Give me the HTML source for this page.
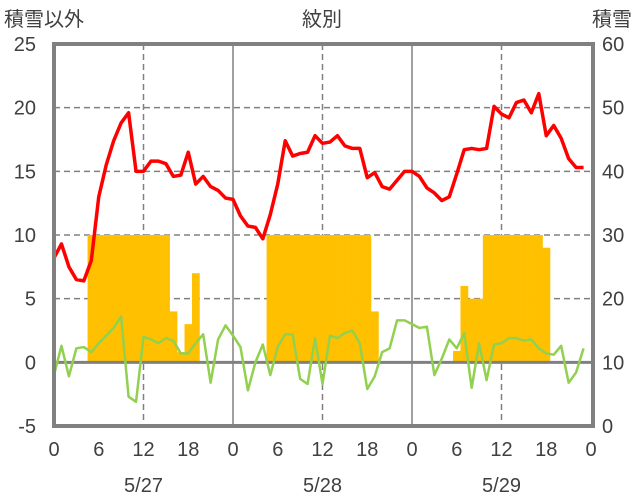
<!DOCTYPE html>
<html><head><meta charset="utf-8"><style>
body{margin:0;background:#fff;}
svg{display:block;font-family:"Liberation Sans","Noto Sans CJK JP",sans-serif;}
</style></head><body>
<svg id="c" width="636" height="501"></svg>
<script>
const hourLabels=["0","6","12","18","0","6","12","18","0","6","12","18","0"];
const dateLabels=["5/27","5/28","5/29"];
const leftTicks=[25,20,15,10,5,0,-5];
const rightTicks=[60,50,40,30,20,10,0];
const redSeries=[8.2,9.3,7.5,6.5,6.4,8.0,13,15.5,17.4,18.8,19.6,15,15,15.8,15.8,15.6,14.6,14.7,16.5,14,14.6,13.8,13.5,12.9,
12.8,11.5,10.7,10.6,9.7,11.6,14,17.4,16.2,16.4,16.5,17.8,17.2,17.3,17.8,17,16.8,16.8,14.5,14.9,13.8,13.6,14.3,15,
15,14.6,13.7,13.3,12.7,13.0,14.8,16.7,16.8,16.7,16.8,20.1,19.5,19.2,20.4,20.6,19.6,21.1,17.8,18.6,17.6,16.0,15.3,15.3];
const greenSeries=[-1.0,1.3,-1.1,1.1,1.2,0.8,1.5,2.1,2.7,3.6,-2.7,-3.1,2.0,1.8,1.5,1.9,1.7,0.7,0.7,1.5,2.2,-1.6,1.8,2.9,
2.1,1.2,-2.2,0,1.4,-1,1.2,2.2,2.2,-1.3,-1.7,1.9,-1.7,2.1,1.9,2.3,2.5,1.5,-2.1,-1.1,0.8,1.1,3.3,3.3,
3.0,2.7,2.8,-1.0,0.3,1.8,1.1,2.3,-2.0,1.5,-1.4,1.4,1.5,1.9,1.9,1.7,1.8,1.1,0.7,0.6,1.3,-1.6,-0.8,1.1];
const barHours=[5,6,7,8,9,10,11,12,13,14,15,16,17,18,19,29,30,31,32,33,34,35,36,37,38,39,40,41,42,43,54,55,56,57,58,59,60,61,62,63,64,65,66];
const barValues=[10,10,10,10,10,10,10,10,10,10,10,4,0.8,3,7,10,10,10,10,10,10,10,10,10,10,10,10,10,10,4,0.9,6,5,5,10,10,10,10,10,10,10,10,9];

const NS="http://www.w3.org/2000/svg";
const svg=document.getElementById('c');
const L=54,R=593,T=44,B=426,H72=591;
const x=h=>L+(H72-L)*h/72;
const y=v=>T+(25-v)*(B-T)/30;
const yr=v=>T+(60-v)*(B-T)/60;
function mk(tag,attrs,parent){const e=document.createElementNS(NS,tag);for(const k in attrs)e.setAttribute(k,attrs[k]);(parent||svg).appendChild(e);return e;}
// grid
[5,10,15,20].forEach(v=>{const g=mk('line',{x1:L,x2:R,y1:y(v),y2:y(v),stroke:'#808080','stroke-width':1.5,'stroke-dasharray':'6,4'});

});
[12,36,60].forEach(h=>{const g=mk('line',{x1:x(h),x2:x(h),y1:T,y2:B,stroke:'#808080','stroke-width':1.5,'stroke-dasharray':'6,4'});

});
[24,48].forEach(h=>{const g=mk('line',{x1:x(h),x2:x(h),y1:T,y2:B,stroke:'#808080','stroke-width':1.5});

});
// bars
const w=(H72-L)/72;
barHours.forEach((h,i)=>{const v=barValues[i];const b=mk('rect',{x:x(h)-w/2,y:y(v),width:w+0.3,height:y(0)-y(v),fill:'#FFC000'});

});
// zero line
const z=mk('line',{x1:L,x2:R,y1:y(0),y2:y(0),stroke:'#808080','stroke-width':3});


// lines
function line(data,color,name){const p=mk('polyline',{points:data.map((v,i)=>x(i)+','+y(v)).join(' '),fill:'none',stroke:color,'stroke-width':name==='red-line'?3.5:2.5,'stroke-linejoin':'round'});

}
line(greenSeries,'#92D050','green-line');
line(redSeries,'#FF0000','red-line');
// frame
const f=mk('rect',{x:L,y:T,width:R-L,height:B-T,fill:'none',stroke:'#808080','stroke-width':4});


// ticks text
const tc='#404040';
leftTicks.forEach(v=>{const t=mk('text',{x:36,y:y(v)+7,'text-anchor':'end','font-size':20,fill:tc});t.textContent=v;

});
rightTicks.forEach(v=>{const t=mk('text',{x:602,y:yr(v)+7,'font-size':20,fill:tc});t.textContent=v;

});
hourLabels.forEach((s,i)=>{const t=mk('text',{x:x(i*6),y:456,'text-anchor':'middle','font-size':20,fill:tc});t.textContent=s;

});
dateLabels.forEach((s,i)=>{const t=mk('text',{x:x(12+24*i),y:492,'text-anchor':'middle','font-size':20,fill:tc});t.textContent=s;

});
[["積雪以外",4,'start','left-axis-title'],["紋別",322,'middle','chart-title'],["積雪",632,'end','right-axis-title']].forEach(a=>{
const t=mk('text',{x:a[1],y:26,'text-anchor':a[2],'font-size':20,fill:tc});t.textContent=a[0];

});
</script>
</body></html>
